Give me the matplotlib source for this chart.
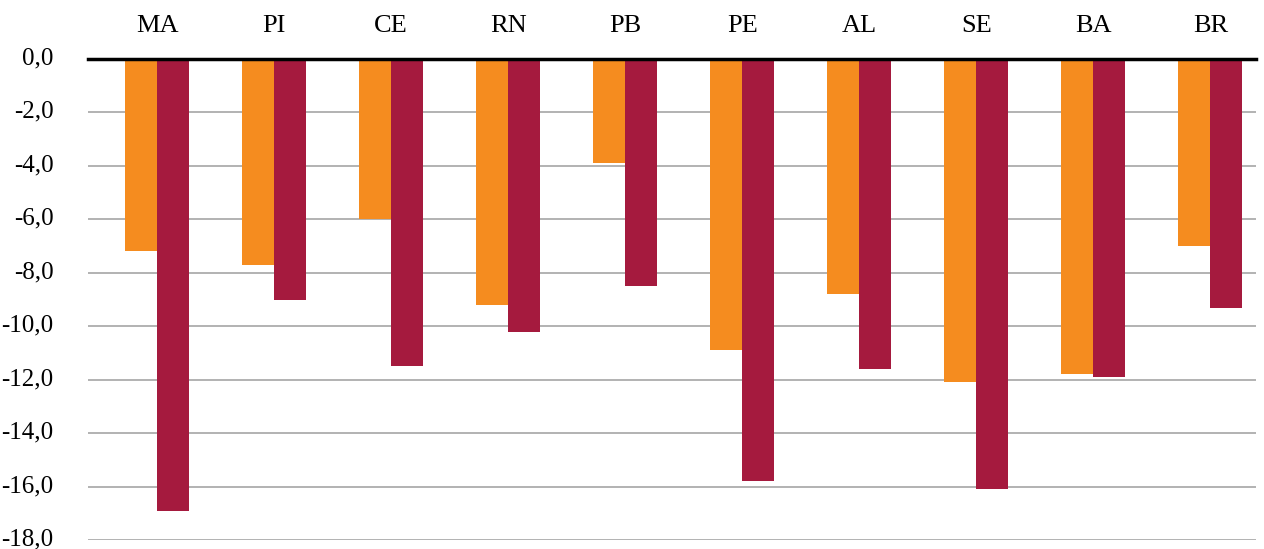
import numpy as np
import matplotlib.pyplot as plt
import matplotlib.transforms as mtransforms

estados = ['MA', 'PI', 'CE', 'RN', 'PB', 'PE', 'AL', 'SE', 'BA', 'BR']
serie_a = [-7.2, -7.7, -6.0, -9.2, -3.9, -10.9, -8.8, -12.1, -11.8, -7.0]
serie_b = [-16.9, -9.0, -11.5, -10.2, -8.5, -15.8, -11.6, -16.1, -11.9, -9.3]
yticks = np.arange(0, -18.1, -2)

plt.rcParams['font.family'] = ['Liberation Serif', 'DejaVu Serif']

fig = plt.figure(figsize=(12.64, 5.49), dpi=100)
ax = fig.add_axes([88/1264, 9/549, (1256-88)/1264, (540-59)/549])

x = np.arange(len(estados))
w = 0.273
ax.bar(x - w/2, serie_a, w, color='#F58C1F', zorder=2)
ax.bar(x + w/2, serie_b, w, color='#A51A3E', zorder=2)

ax.set_xlim(-0.59, 9.39)
ax.set_ylim(-18, 0)
ax.set_yticks(yticks)
ax.set_yticklabels([f'{v:.1f}'.replace('.', ',').replace('-0,0', '0,0') for v in yticks], fontsize=18)
ax.tick_params(axis='y', length=0, pad=25)
ax.tick_params(axis='x', length=0)
ax.set_xticks([])
# nudge the y labels up a few pixels
shift = mtransforms.ScaledTranslation(0, 3/100, fig.dpi_scale_trans)
for lbl in ax.get_yticklabels():
    lbl.set_verticalalignment('center_baseline')
    lbl.set_transform(lbl.get_transform() + shift)
for v in yticks[1:]:
    ax.axhline(v, color='#a6a6a6', lw=1.2, zorder=1)
ax.axhline(0, color='black', lw=2.5, zorder=3, clip_on=False)
for s in ax.spines.values():
    s.set_visible(False)

# category names sit above the zero line
for xi, nome in zip(x, estados):
    ax.text(xi, 1.01, nome, ha='center', va='baseline', fontsize=19, clip_on=False)

fig.savefig('out.png', dpi=100)
